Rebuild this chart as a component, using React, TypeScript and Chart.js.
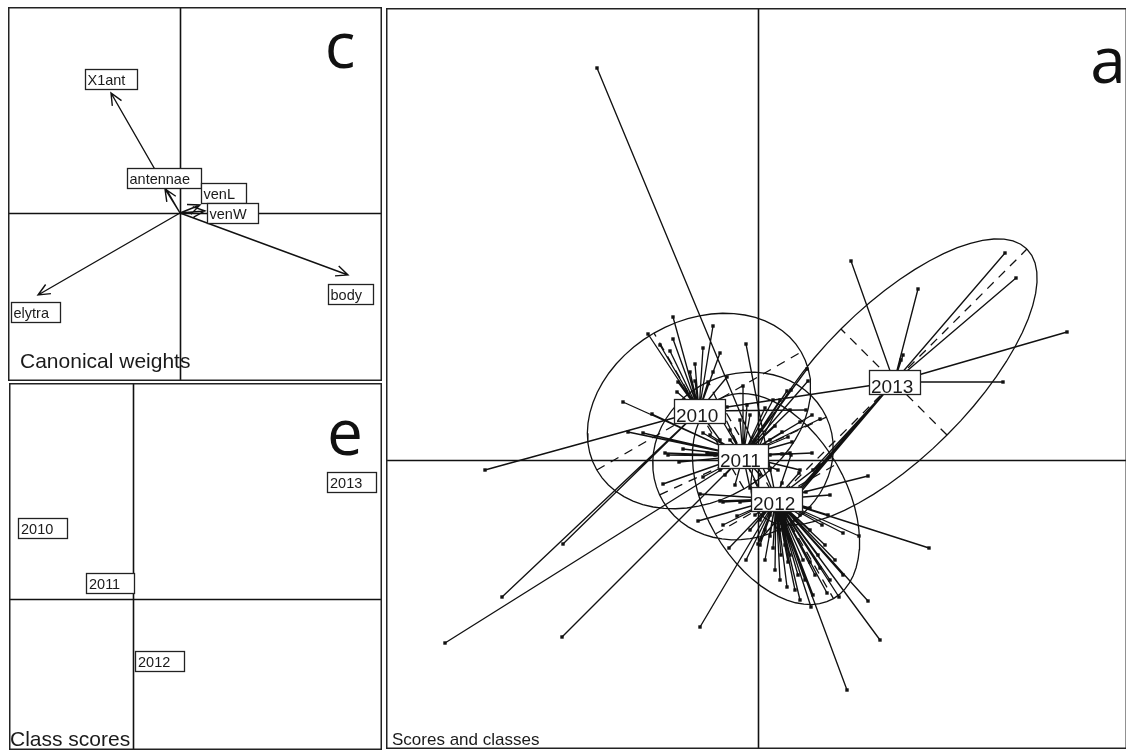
import React, { useEffect, useRef } from "react";
import { Chart, registerables } from "chart.js";

Chart.register(...registerables);

const FONT = '"Liberation Sans", Arial, Helvetica, sans-serif';
const LETTER_FONT = '"Open Sans", "Noto Sans", sans-serif';
const INK = "#111";

// ---- Canonical weights (panel c) ----
const varNames = ["X1ant", "antennae", "venL", "venW", "body", "elytra"];
const varX = [-0.69, -0.15, 0.2, 0.25, 1.68, -1.42];
const varY = [1.2, 0.24, 0.08, 0.02, -0.62, -0.82];
const varLabelX = [-0.695, -0.155, 0.435, 0.525, 1.705, -1.45];
const varLabelY = [1.345, 0.35, 0.2, 0.0, -0.81, -0.985];

// ---- Class scores (panel e) ----
const classes = ["2010", "2011", "2012", "2013"];
const classScoreX = [-0.905, -0.225, 0.265, 2.185];
const classScoreY = [0.715, 0.165, -0.615, 1.17];

// ---- Scores and classes (panel a) ----
const centroidX = [-0.59, -0.15, 0.18, 1.36];
const centroidY = [0.49, 0.04, -0.39, 0.78];
// ellipse semi-axes and orientation (degrees)
const ellipseA = [1.18, 0.92, 1.15, 1.88];
const ellipseB = [0.9, 0.82, 0.7, 0.75];
const ellipseAngle = [30, 25, -60, 45];

const scores2010X = [-0.85, -0.45, -1.1, -0.85, -0.55, -0.88, -0.38, -0.63, -0.45, -0.31, -0.8, -0.63, -0.5, -0.81, 0.48, -2.73, -2.56, -1.95, -0.98, -0.68, -0.38];
const scores2010Y = [1.43, 1.34, 1.26, 1.21, 1.12, 1.09, 1.07, 0.96, 0.88, 0.83, 0.78, 0.79, 0.78, 0.68, 0.5, -0.1, -1.37, -0.84, 1.15, 0.88, 0.2];

const scores2011X = [0.49, 0.5, 0.33, 0.29, -0.15, 0.15, 0.07, 0.54, 0.62, 0.42, 0.17, 0.24, 0.3, 0.34, 0.32, 0.54, 0.24, -0.93, -0.9, -0.75, -0.79, -0.95, -0.55, -0.55, -0.48, -0.51, -3.13, -1.96, 0.02, -0.28, -0.33, 0.02, 0.12, -0.36, -0.08, 0.42, -1.35, -1.06, -1.3, -1.15, 0.32, 0.22, -0.11, -0.03, 0.07, 0.12, -0.38, -0.23, -0.08, -0.43, 0.12, -0.28, 0.02, 0.2, -0.18];
const scores2011Y = [0.91, 0.79, 0.7, 0.69, 0.74, 0.6, 0.52, 0.45, 0.41, 0.38, 0.34, 0.28, 0.23, 0.18, 0.07, 0.07, 0.06, 0.07, 0.05, 0.11, -0.02, -0.24, -0.17, 0.27, 0.25, 0.07, -1.83, -1.77, 0.3, 0.3, -0.15, -0.15, -0.1, 0.4, 0.45, -0.1, 0.58, 0.46, 0.28, 0.27, 0.5, 0.6, 0.55, 0.2, 0.15, 0.2, -0.1, -0.25, -0.28, 0.05, 0.05, 0.2, -0.3, -0.1, 0.4];

const scores2012X = [-1.61, -0.12, 1.1, 0.72, 0.7, 0.85, 1.01, 1.71, 1.1, 1.22, 0.89, 0.85, 0.81, 0.69, 0.55, 0.53, 0.29, 0.4, 0.3, 0.23, 0.15, 0.52, 0.6, 0.62, 0.45, 0.32, -0.29, -0.12, 0.0, -0.58, 0.62, 0.41, 0.48, 0.52, 0.64, 0.07, 0.02, 0.22, 0.37, 0.42, -0.03, -0.18, 0.12, 0.27, 0.72, 0.33, 0.24, -0.58, -0.38, -0.35, -0.6, -0.35, -0.21, 0.07, 0.17, 0.37, 0.47, 0.57, 0.32, 0.02, 0.42, 0.22, 0.72, -0.08, 0.52, 0.12, 0.32, 0.02, 0.77, 0.67];
const scores2012Y = [3.92, 1.16, -0.16, -0.35, -0.55, -0.73, -0.76, -0.88, -1.41, -1.8, -2.3, -1.15, -1.37, -1.33, -1.35, -1.47, -1.27, -1.15, -1.02, -0.95, -0.88, -1.02, -0.95, -1.08, -1.0, -0.8, -0.88, -1.0, -0.84, -1.67, -0.05, -0.13, -0.32, -0.48, -0.65, -0.7, -0.6, -0.7, -0.6, -0.55, -0.55, -0.42, -0.76, -0.85, 0.03, 0.05, -0.23, -0.34, -0.41, -0.42, -0.61, -0.65, -0.56, -1.0, -1.1, -1.3, -1.2, -1.15, -0.95, -0.85, -1.4, -1.2, -1.2, -0.7, -0.7, -0.55, -0.5, -0.45, -1.0, -0.85];

const scores2013X = [0.93, 1.6, 2.47, 2.58, 3.09, 2.45, 1.45, 1.43, -0.31, 0.55, 0.42, 0.25, 0.02];
const scores2013Y = [1.99, 1.71, 2.07, 1.82, 1.28, 0.78, 1.05, 1.0, 0.53, -0.1, -0.28, -0.5, -0.8];

const scoresX = [scores2010X, scores2011X, scores2012X, scores2013X];
const scoresY = [scores2010Y, scores2011Y, scores2012Y, scores2013Y];

// ---- helpers ----
const gap = (x: number) => ({ x, y: null });

function lineDataset(data: any[], width = 1, dash: number[] = []) {
  return {
    data,
    showLine: true,
    borderColor: INK,
    backgroundColor: INK,
    borderWidth: width,
    borderDash: dash,
    pointRadius: 0,
    pointHoverRadius: 0,
    tension: 0,
    spanGaps: false,
    fill: false,
  };
}

function baseOptions(xr: number[], yr: number[], plugins: any) {
  return {
    animation: false,
    responsive: false,
    maintainAspectRatio: false,
    devicePixelRatio: 1,
    events: [],
    layout: { padding: 0, autoPadding: false },
    plugins: { legend: { display: false }, tooltip: { enabled: false }, ...plugins },
    scales: {
      x: { type: "linear", min: xr[0], max: xr[1], display: false },
      y: { type: "linear", min: yr[0], max: yr[1], display: false },
    },
  };
}

// zero axes, framed panel, boxed labels and captions
const panelPlugin = {
  id: "panelDecor",
  beforeDatasetsDraw(chart: any) {
    const { ctx, chartArea: a, scales } = chart;
    const x0 = Math.round(scales.x.getPixelForValue(0)) + 0.5;
    const y0 = Math.round(scales.y.getPixelForValue(0)) + 0.5;
    ctx.save();
    ctx.strokeStyle = INK;
    ctx.lineWidth = 1.6;
    ctx.beginPath();
    ctx.moveTo(x0, a.top);
    ctx.lineTo(x0, a.bottom);
    ctx.moveTo(a.left, y0);
    ctx.lineTo(a.right, y0);
    ctx.stroke();
    ctx.restore();
  },
  afterDatasetsDraw(chart: any, _args: any, opts: any) {
    const { ctx, scales } = chart;
    const L = opts.labels;
    if (!L) return;
    ctx.save();
    ctx.font = `${L.size}px ${FONT}`;
    for (let i = 0; i < L.text.length; i++) {
      const cx = scales.x.getPixelForValue(L.x[i]);
      const cy = scales.y.getPixelForValue(L.y[i]);
      const tw = ctx.measureText(L.text[i]).width;
      const w = Math.round(tw + L.pad);
      const h = L.height;
      const bx = Math.round(cx - w / 2) + 0.5;
      const by = Math.round(cy - h / 2) + 0.5;
      ctx.fillStyle = "#fff";
      ctx.fillRect(bx, by, w, h);
      ctx.strokeStyle = "#222";
      ctx.lineWidth = 1.3;
      ctx.strokeRect(bx, by, w, h);
      ctx.fillStyle = "#1a1a1a";
      ctx.textAlign = "left";
      ctx.textBaseline = "alphabetic";
      ctx.fillText(L.text[i], bx + L.dx, by + h - L.baseline);
    }
    ctx.restore();
  },
  afterDraw(chart: any, _args: any, opts: any) {
    const { ctx, chartArea: a } = chart;
    ctx.save();
    ctx.strokeStyle = "#222";
    ctx.lineWidth = 1.5;
    ctx.strokeRect(a.left + 0.75, a.top + 0.75, a.width - 1.5, a.height - 1.5);
    if (opts.caption) {
      ctx.fillStyle = "#1a1a1a";
      ctx.font = `${opts.caption.size}px ${FONT}`;
      ctx.textAlign = "left";
      ctx.textBaseline = "alphabetic";
      ctx.fillText(opts.caption.text, a.left + opts.caption.x, a.top + opts.caption.y);
    }
    if (opts.letter) {
      ctx.fillStyle = INK;
      ctx.font = `${opts.letter.size}px ${LETTER_FONT}`;
      ctx.textAlign = "center";
      ctx.textBaseline = "alphabetic";
      ctx.fillText(opts.letter.text, a.left + opts.letter.x, a.top + opts.letter.y);
    }
    ctx.restore();
  },
};

function buildWeights(canvas: HTMLCanvasElement) {
  const arrows: any[] = [];
  const head = 0.13;
  const spread = 0.42;
  for (let i = 0; i < varNames.length; i++) {
    const tx = varX[i];
    const ty = varY[i];
    const th = Math.atan2(ty, tx);
    arrows.push({ x: 0, y: 0 }, { x: tx, y: ty }, gap(tx));
    arrows.push(
      { x: tx + head * Math.cos(th + Math.PI - spread), y: ty + head * Math.sin(th + Math.PI - spread) },
      { x: tx, y: ty },
      { x: tx + head * Math.cos(th + Math.PI + spread), y: ty + head * Math.sin(th + Math.PI + spread) },
      gap(tx)
    );
  }
  return new Chart(canvas, {
    type: "scatter",
    data: { datasets: [lineDataset(arrows, 1.4)] },
    options: baseOptions([-1.72, 2.02], [-1.68, 2.06], {
      panelDecor: {
        labels: { text: varNames, x: varLabelX, y: varLabelY, size: 14.5, pad: 14, height: 20, dx: 2, baseline: 4.5 },
        caption: { text: "Canonical weights", size: 21, x: 12, y: 361 },
        letter: { text: "c", size: 64, x: 332, y: 61 },
      },
    }) as any,
    plugins: [panelPlugin],
  });
}

function buildClassScores(canvas: HTMLCanvasElement) {
  return new Chart(canvas, {
    type: "scatter",
    data: {
      datasets: [
        {
          data: classScoreX.map((x, i) => ({ x, y: classScoreY[i] })),
          pointRadius: 0,
          showLine: false,
        },
      ],
    },
    options: baseOptions([-1.24, 2.49], [-1.51, 2.16], {
      panelDecor: {
        labels: { text: classes, x: classScoreX, y: classScoreY, size: 14.5, pad: 17, height: 20, dx: 2.5, baseline: 4.5 },
        caption: { text: "Class scores", size: 21, x: 1, y: 363 },
        letter: { text: "e", size: 64, x: 336, y: 72 },
      },
    }) as any,
    plugins: [panelPlugin],
  });
}

function buildScores(canvas: HTMLCanvasElement) {
  const ellipses: any[] = [];
  const ellAxes: any[] = [];
  const stars: any[] = [];
  const points: any[] = [];
  for (let k = 0; k < classes.length; k++) {
    const cx = centroidX[k];
    const cy = centroidY[k];
    const a = ellipseA[k];
    const b = ellipseB[k];
    const t = (ellipseAngle[k] * Math.PI) / 180;
    const n = 60;
    for (let j = 0; j <= n; j++) {
      const s = (2 * Math.PI * j) / n;
      const u = a * Math.cos(s);
      const v = b * Math.sin(s);
      ellipses.push({ x: cx + u * Math.cos(t) - v * Math.sin(t), y: cy + u * Math.sin(t) + v * Math.cos(t) });
    }
    ellipses.push(gap(cx));
    ellAxes.push(
      { x: cx - a * Math.cos(t), y: cy - a * Math.sin(t) },
      { x: cx + a * Math.cos(t), y: cy + a * Math.sin(t) },
      gap(cx),
      { x: cx + b * Math.sin(t), y: cy - b * Math.cos(t) },
      { x: cx - b * Math.sin(t), y: cy + b * Math.cos(t) },
      gap(cx)
    );
    const xs = scoresX[k];
    const ys = scoresY[k];
    for (let i = 0; i < xs.length; i++) {
      stars.push({ x: xs[i], y: ys[i] }, { x: cx, y: cy }, gap(cx));
      points.push({ x: xs[i], y: ys[i] });
    }
  }
  return new Chart(canvas, {
    type: "scatter",
    data: {
      datasets: [
        lineDataset(ellipses, 1.3),
        lineDataset(ellAxes, 1.3, [9, 7]),
        lineDataset(stars, 1.35),
        {
          data: points,
          showLine: false,
          pointStyle: "rect",
          pointRadius: 2.4,
          pointBackgroundColor: INK,
          pointBorderWidth: 0,
        },
      ],
    },
    options: baseOptions([-3.72, 3.69], [-2.89, 4.52], {
      panelDecor: {
        labels: { text: classes, x: centroidX, y: centroidY, size: 19, pad: 9, height: 24, dx: 1.5, baseline: 2 },
        caption: { text: "Scores and classes", size: 17, x: 6, y: 737 },
        letter: { text: "a", size: 64, x: 722, y: 75 },
      },
    }) as any,
    plugins: [panelPlugin],
  });
}

export default function App() {
  const refC = useRef<HTMLCanvasElement>(null);
  const refE = useRef<HTMLCanvasElement>(null);
  const refA = useRef<HTMLCanvasElement>(null);

  useEffect(() => {
    const charts = [
      buildWeights(refC.current as HTMLCanvasElement),
      buildClassScores(refE.current as HTMLCanvasElement),
      buildScores(refA.current as HTMLCanvasElement),
    ];
    return () => charts.forEach((c) => c.destroy());
  }, []);

  return (
    <div
      style={{
        position: "fixed",
        left: 0,
        top: 0,
        width: 1126,
        height: 751,
        background: "#fff",
        overflow: "hidden",
      }}
    >
      <canvas ref={refC} width={374} height={374} style={{ position: "absolute", left: 8, top: 7, width: 374, height: 374 }} />
      <canvas ref={refE} width={373} height={367} style={{ position: "absolute", left: 9, top: 383, width: 373, height: 367 }} />
      <canvas ref={refA} width={741} height={741} style={{ position: "absolute", left: 386, top: 8, width: 741, height: 741 }} />
    </div>
  );
}
